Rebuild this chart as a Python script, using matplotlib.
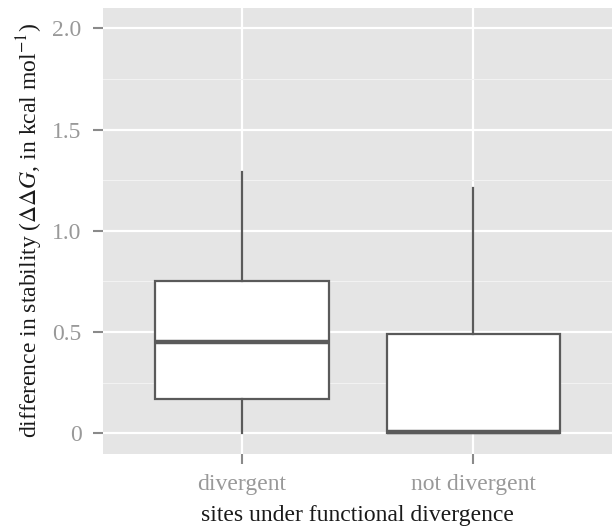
import matplotlib.pyplot as plt
from matplotlib.ticker import MultipleLocator

categories = ["divergent", "not divergent"]
whisker_low = [0.0, 0.0]
q1 = [0.17, 0.0]
median = [0.45, 0.005]
q3 = [0.75, 0.49]
whisker_high = [1.29, 1.21]

y_ticks = [0, 0.5, 1.0, 1.5, 2.0]
y_tick_labels = ["0", "0.5", "1.0", "1.5", "2.0"]

plt.rcParams["font.family"] = ["Liberation Serif", "DejaVu Serif"]
plt.rcParams["mathtext.fontset"] = "stix"

EDGE = "#5a5a5a"
FS = 17

fig = plt.figure(figsize=(6.14, 5.30), dpi=100)
ax = fig.add_axes([0.168, 0.144, 0.829, 0.841])
ax.set_facecolor("#e5e5e5")

stats = []
for i, name in enumerate(categories):
    stats.append({
        "label": name,
        "whislo": whisker_low[i],
        "q1": q1[i],
        "med": median[i],
        "q3": q3[i],
        "whishi": whisker_high[i],
        "fliers": [],
    })

ax.bxp(
    stats,
    positions=[1, 2],
    widths=0.75,
    showcaps=False,
    showfliers=False,
    patch_artist=True,
    boxprops=dict(facecolor="white", edgecolor=EDGE, linewidth=1.6),
    whiskerprops=dict(color=EDGE, linewidth=1.6),
    medianprops=dict(color=EDGE, linewidth=3.2, solid_capstyle="butt"),
    zorder=3,
)

ax.set_xlim(0.4, 2.6)
ax.set_ylim(-0.1, 2.1)
ax.set_yticks(y_ticks)
ax.set_yticklabels(y_tick_labels)
ax.yaxis.set_minor_locator(MultipleLocator(0.25))
ax.set_xticks([1, 2])
ax.set_xticklabels(categories)

ax.grid(True, which="major", color="white", linewidth=1.6, zorder=0)
ax.grid(True, which="minor", axis="y", color="#f2f2f2", linewidth=0.8, zorder=0)
ax.set_axisbelow(True)

for side in ax.spines.values():
    side.set_visible(False)

ax.tick_params(axis="both", which="major", length=7, width=1.5,
               color="#8a8a8a", labelcolor="#999999", labelsize=FS)
ax.tick_params(axis="y", which="major", pad=8.5)
ax.tick_params(axis="x", which="major", pad=7.5)
ax.tick_params(axis="y", which="minor", length=0)

ax.set_xlabel("sites under functional divergence", fontsize=FS, labelpad=7,
              color="#1a1a1a")
ax.set_ylabel(r"difference in stability ($\Delta\Delta G$, in kcal mol$^{-1}$)",
              fontsize=FS, labelpad=5.5, color="#1a1a1a")

fig.savefig("out.png", dpi=100)
